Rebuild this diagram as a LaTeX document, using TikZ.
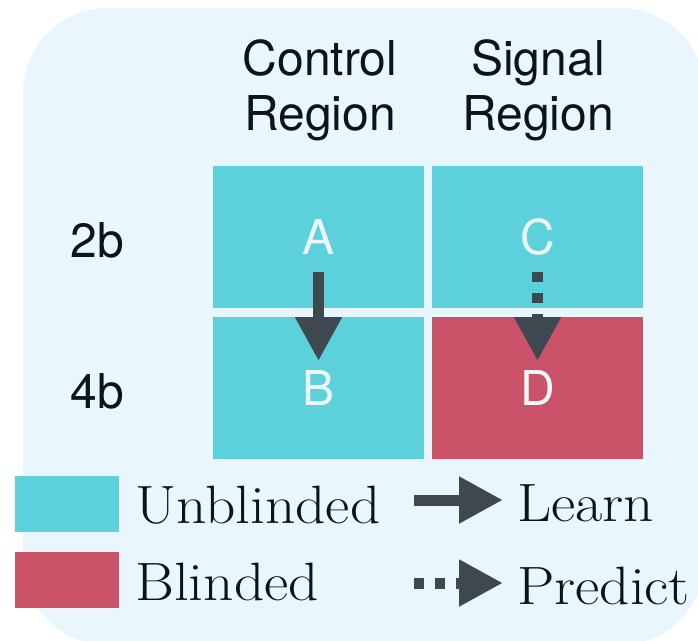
\documentclass[tikz,border=0pt]{standalone}
\usepackage{fontspec}
\usetikzlibrary{arrows.meta}
\newfontfamily\heros{TeX Gyre Heros}
\newfontfamily\legfont[FakeStretch=1.1]{Latin Modern Roman}

\definecolor{bgblue}{RGB}{233,246,254}
\definecolor{unblcyan}{RGB}{92,209,219}
\definecolor{blred}{RGB}{203,83,105}
\definecolor{arrowgray}{RGB}{61,72,80}
\definecolor{textdark}{RGB}{10,20,28}
\definecolor{letterwhite}{RGB}{236,246,251}

\begin{document}
\begin{tikzpicture}[x=1pt,y=-1pt,
  cell/.style={minimum width=211pt,minimum height=142pt,inner sep=0pt,
    text=letterwhite,font=\heros\fontsize{48}{55}\selectfont},
  header/.style={align=center,text=textdark,font=\heros\fontsize{48}{55}\selectfont},
  legbox/.style={minimum width=104pt,minimum height=56pt,inner sep=0pt},
  legtext/.style={anchor=base west,inner sep=0pt,text=textdark,font=\legfont\fontsize{54}{60}\selectfont},
  learnarrow/.style={arrowgray,line width=11pt,-{Triangle[width=44pt,length=44pt]}},
  predictarrow/.style={learnarrow,dash pattern=on 10pt off 11pt}]

\useasboundingbox (0,0) rectangle (698,640);
\begin{scope}
\clip (0,0) rectangle (698,640);
\fill[bgblue,rounded corners=85pt] (23,8) rectangle (705,645);
\end{scope}

% column and row headers
\node[header] (control) at (320,90) {Control\\Region};
\node[header] (signal) at (538,90) {Signal\\Region};
\node[header,anchor=base] (twob) at (97,257) {2b};
\node[header,anchor=base] (fourb) at (97,408) {4b};

% the four regions
\node[cell,fill=unblcyan] (A) at (318.5,237) {A};
\node[cell,fill=unblcyan] (B) at (318.5,388) {B};
\node[cell,fill=unblcyan] (C) at (537.5,237) {C};
\node[cell,fill=blred] (D) at (537.5,388) {D};

\draw[learnarrow] ([yshift=-35pt]A.center) to ([yshift=27pt]B.center);
\draw[predictarrow] ([yshift=-35pt]C.center) to ([yshift=27pt]D.center);

% legend
\node[legbox,fill=unblcyan] (unblbox) at (67,503.5) {};
\node[legbox,fill=blred] (blbox) at (67,580) {};
\node[legtext] (unbl) at (135,523) {Unblinded};
\node[legtext] (bl) at (135,600) {Blinded};

\coordinate (learnstart) at (414,500);
\coordinate (learnend) at (503,500);
\coordinate (predstart) at (414,583);
\coordinate (predend) at (503,583);
\draw[learnarrow] (learnstart) to (learnend);
\draw[predictarrow] (predstart) to (predend);
\node[legtext] (learn) at (517,521) {Learn};
\node[legtext] (predict) at (517,604) {Predict};

\end{tikzpicture}
\end{document}
